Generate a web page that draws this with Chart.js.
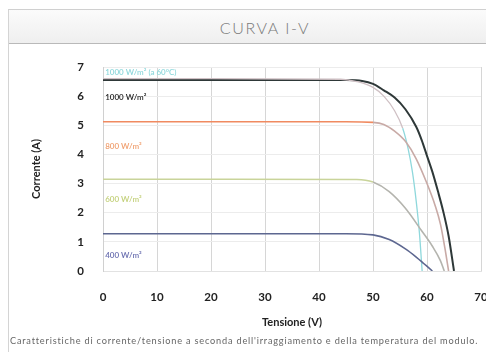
<!DOCTYPE html>
<html>
<head>
<meta charset="utf-8">
<script src="https://cdn.jsdelivr.net/npm/chart.js@4"></script>
<style>
  html, body { margin: 0; padding: 0; background: #fff; }
  #wrap { position: relative; width: 486px; height: 352px; overflow: hidden; background: #fff; font-family: Lato, "DejaVu Sans", sans-serif; }
  #frame { position: absolute; left: 8px; top: 9px; width: 490px; height: 360px; border-left: 1px solid #d4d4d4; border-top: 1px solid #d0d0d0; }
  #band { position: absolute; left: 9px; top: 10px; width: 490px; height: 33px; background: linear-gradient(#fbfbfb, #efefef); border-bottom: 1px solid #b9b9b9; }
  #title { position: absolute; left: 0; top: 18px; width: 530px; text-align: center; font-size: 16px; color: #7a7a7a; letter-spacing: 1.6px; font-weight: 300; }
  #caption { position: absolute; left: 10px; top: 335px; white-space: nowrap; font-size: 9.2px; letter-spacing: 0.8px; color: #666; }
  canvas { position: absolute; left: 0; top: 0; }
</style>
</head>
<body>
<div id="wrap">
  <div id="frame"></div>
  <div id="band"></div>
  <div id="title">CURVA I-V</div>
  <canvas id="c" width="486" height="352"></canvas>
  <div id="caption">Caratteristiche di corrente/tensione a seconda dell'irraggiamento e della temperatura del modulo.</div>
</div>
<script>
// Voltage (V) and current (A) samples for each irradiance curve
const v1000 = [0, 20, 45, 48, 50, 52, 54, 56, 58, 59, 60, 61, 62, 63, 64, 65];
const i1000 = [6.55, 6.55, 6.55, 6.52, 6.42, 6.2, 5.95, 5.55, 4.95, 4.5, 3.95, 3.4, 2.75, 2.05, 1.2, 0];

const v1000hot = [0, 20, 44, 47, 50, 52, 54, 55.5, 56.5, 57.3, 58, 58.6, 59.1];
const i1000hot = [6.6, 6.6, 6.58, 6.5, 6.3, 6.0, 5.5, 4.9, 4.2, 3.4, 2.4, 1.3, 0];

const v800 = [0, 20, 45, 50, 52, 54, 56, 58, 60, 61.5, 62.5, 63.3, 64];
const i800 = [5.12, 5.12, 5.12, 5.1, 5.03, 4.8, 4.45, 3.85, 3.0, 2.25, 1.6, 0.8, 0];

const v600 = [0, 20, 47, 50, 53, 56, 59, 61, 62.5, 63.2];
const i600 = [3.15, 3.15, 3.14, 3.05, 2.72, 2.15, 1.38, 0.85, 0.35, 0];

const v400 = [0, 20, 45, 50, 53, 56, 58, 59.5, 61];
const i400 = [1.28, 1.28, 1.28, 1.24, 1.08, 0.76, 0.48, 0.24, 0];

// Curve names
const curveNames = ['1000 W/m² (a 60°C)', '1000 W/m²', '800 W/m²', '600 W/m²', '400 W/m²'];

// Axis ranges and ticks
const xTicks = [0, 10, 20, 30, 40, 50, 60, 70];
const yTicks = [0, 1, 2, 3, 4, 5, 6, 7];

const pts = (vs, is) => vs.map((v, k) => ({ x: v, y: is[k] }));

// where each curve name is written, in axis units (volts, amperes)
const nameSpots = [
  { x: 0.4, y: 6.82, color: '#8fd8dc' },
  { x: 0.4, y: 5.95, color: '#1e1e1e' },
  { x: 0.4, y: 4.26, color: '#f0a070' },
  { x: 0.4, y: 2.44, color: '#c3d07a' },
  { x: 0.4, y: 0.55, color: '#6a6fb0' }
];

const curveNamePlugin = {
  id: 'curveNames',
  afterDatasetsDraw(chart) {
    const { ctx, scales: { x, y } } = chart;
    ctx.save();
    ctx.font = '600 8px Lato, "DejaVu Sans", sans-serif';
    ctx.textAlign = 'left';
    ctx.textBaseline = 'middle';
    curveNames.forEach((name, k) => {
      const s = nameSpots[k];
      ctx.fillStyle = s.color;
      ctx.fillText(name, x.getPixelForValue(s.x), y.getPixelForValue(s.y));
    });
    ctx.restore();
  }
};

// descending part of a curve past its knee can take a second colour
const kneeColor = (base, fade, knee) => (c) => (c.p0.parsed.x >= knee ? fade : base);

const line = (data, color, width, extra) => Object.assign({
  data, borderColor: color, borderWidth: width, pointRadius: 0,
  cubicInterpolationMode: 'monotone', fill: false
}, extra || {});

new Chart(document.getElementById('c'), {
  type: 'line',
  data: {
    datasets: [
      line(pts(v400, i400), '#5d6790', 1.6),
      line(pts(v600, i600), '#bcc4a4', 1.6, { segment: { borderColor: kneeColor('#c9d49a', '#b4b4ae', 50) } }),
      line(pts(v800, i800), '#f08a60', 1.6, { segment: { borderColor: kneeColor('#f08a60', '#c8aaa6', 50) } }),
      line(pts(v1000hot, i1000hot), '#8fd8dc', 1.3, { segment: { borderColor: kneeColor('#cfc0c4', '#8fd8dc', 55.5) } }),
      line(pts(v1000, i1000), '#2e3838', 2)
    ]
  },
  options: {
    responsive: false,
    devicePixelRatio: 1,
    animation: false,
    events: [],
    layout: { padding: { top: 67, right: 5, bottom: 0, left: 0 } },
    plugins: { legend: { display: false }, tooltip: { enabled: false } },
    scales: {
      x: {
        type: 'linear', min: 0, max: 70,
        afterBuildTicks: (s) => { s.ticks = xTicks.map(v => ({ value: v })); },
        afterFit: (s) => { s.height = 81; s.paddingLeft = 0; s.paddingRight = 0; },
        grid: { color: '#d6d6d6', lineWidth: 1, drawTicks: false },
        border: { display: true, color: '#e2e2e2' },
        ticks: { padding: 19, color: '#222', font: { family: 'Lato, "DejaVu Sans", sans-serif', size: 11.5, weight: 'bold' } },
        title: { display: true, text: 'Tensione (V)', color: '#222', padding: { top: 0, bottom: 23 },
                 font: { family: 'Lato, "DejaVu Sans", sans-serif', size: 11, weight: 'bold' } }
      },
      y: {
        type: 'linear', min: 0, max: 7,
        afterBuildTicks: (s) => { s.ticks = yTicks.map(v => ({ value: v })); },
        afterFit: (s) => { s.width = 103; s.paddingTop = 0; s.paddingBottom = 0; },
        grid: { color: '#ececec', lineWidth: 1, drawTicks: false },
        border: { display: true, color: '#d0d0d0' },
        ticks: { padding: 19, color: '#222', font: { family: 'Lato, "DejaVu Sans", sans-serif', size: 11.5, weight: 'bold' } },
        title: { display: true, text: 'Corrente (A)', color: '#222', padding: { top: 30, bottom: 0 },
                 font: { family: 'Lato, "DejaVu Sans", sans-serif', size: 11, weight: 'bold' } }
      }
    }
  },
  plugins: [curveNamePlugin]
});
</script>
</body>
</html>
